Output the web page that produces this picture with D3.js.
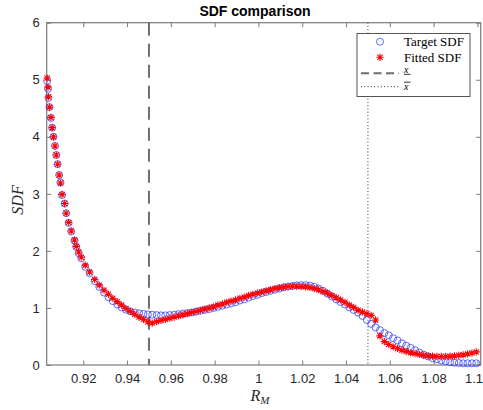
<!DOCTYPE html>
<html>
<head>
<meta charset="utf-8">
<script src="https://cdn.jsdelivr.net/npm/d3@7"></script>
<style>
  html, body { margin: 0; padding: 0; background: #fff; }
  svg { display: block; }
</style>
</head>
<body>
<svg id="chart" width="483" height="410"></svg>
<script>
// ---------------- DATA ----------------
const rm = [
  0.9035,0.9039,0.9041,0.9046,0.9052,0.9058,0.9064,0.9071,0.9077,0.9083,
  0.9090,0.9096,0.9103,0.9115,0.9122,0.9133,0.9145,0.9160,0.9168,0.9179,
  0.9191,0.9209,0.9229,0.9252,0.9273,
  0.9295,0.9315,0.9335,0.9355,0.9375,0.9395,0.9415,0.9435,0.9455,0.9475,
  0.9495,0.9515,0.9535,0.9555,0.9575,0.9595,0.9615,0.9635,0.9655,0.9675,
  0.9695,0.9715,0.9735,0.9755,0.9775,0.9795,0.9815,0.9835,0.9855,0.9875,
  0.9895,0.9915,0.9935,0.9955,0.9975,0.9995,1.0015,1.0035,1.0055,1.0075,
  1.0095,1.0115,1.0135,1.0155,1.0175,1.0195,1.0215,1.0235,1.0255,1.0275,
  1.0295,1.0315,1.0335,1.0355,1.0375,1.0395,1.0415,1.0435,1.0455,1.0475,
  1.0495,1.0515,1.0535,1.0555,1.0575,1.0595,1.0615,1.0635,1.0655,1.0675,
  1.0695,1.0715,1.0735,1.0755,1.0775,1.0795,1.0815,1.0835,1.0855,1.0875,
  1.0895,1.0915,1.0935,1.0955,1.0975,1.0995
];
const targetSDF = [
  4.98,4.84,4.68,4.52,4.33,4.16,4.00,3.84,3.68,3.52,
  3.33,3.20,2.98,2.83,2.66,2.49,2.34,2.18,2.07,1.96,
  1.87,1.72,1.61,1.47,1.37,
  1.27,1.19,1.12,1.06,1.01,0.97,0.94,0.92,0.905,0.895,
  0.885,0.88,0.875,0.87,0.87,0.875,0.88,0.89,0.90,0.91,
  0.92,0.935,0.95,0.965,0.98,1.00,1.02,1.04,1.06,1.08,
  1.10,1.13,1.15,1.18,1.21,1.23,1.26,1.28,1.30,1.32,
  1.34,1.36,1.375,1.385,1.395,1.40,1.40,1.39,1.37,1.34,
  1.30,1.25,1.20,1.15,1.105,1.06,1.01,0.965,0.92,0.86,
  0.79,0.72,0.66,0.61,0.56,0.52,0.47,0.43,0.38,0.34,
  0.30,0.26,0.22,0.18,0.15,0.12,0.10,0.08,0.065,0.05,
  0.04,0.035,0.03,0.03,0.03,0.03
];
const fittedSDF = [
  5.03,4.87,4.70,4.52,4.34,4.16,4.00,3.84,3.68,3.52,
  3.33,3.19,2.99,2.83,2.66,2.50,2.35,2.19,2.08,1.98,
  1.89,1.75,1.63,1.50,1.40,
  1.31,1.24,1.17,1.11,1.05,0.99,0.94,0.89,0.84,0.80,
  0.755,0.735,0.76,0.78,0.80,0.82,0.84,0.86,0.88,0.90,
  0.92,0.94,0.96,0.98,1.00,1.02,1.05,1.07,1.10,1.12,
  1.14,1.17,1.19,1.22,1.24,1.26,1.28,1.30,1.32,1.34,
  1.355,1.365,1.375,1.38,1.38,1.375,1.37,1.36,1.34,1.32,
  1.29,1.26,1.22,1.18,1.14,1.10,1.05,1.01,0.96,0.93,
  0.90,0.87,0.79,0.51,0.41,0.36,0.32,0.29,0.26,0.235,
  0.215,0.20,0.185,0.17,0.16,0.155,0.15,0.15,0.15,0.155,
  0.16,0.17,0.18,0.195,0.21,0.23
];
const lowerBound = 0.95;
const upperBound = 1.05;
const xTicks = [0.92,0.94,0.96,0.98,1.00,1.02,1.04,1.06,1.08,1.10];
const xTickLabels = ["0.92","0.94","0.96","0.98","1","1.02","1.04","1.06","1.08","1.1"];
const yTicks = [0,1,2,3,4,5,6];
const yTickLabels = ["0","1","2","3","4","5","6"];
const legendLabels = ["Target SDF","Fitted SDF"];

// ---------------- LAYOUT ----------------
const svg = d3.select("#chart");
const L = 46.7, R = 480.7, T = 22.7, B = 365;
const x = d3.scaleLinear().domain([0.9033, 1.1015]).range([L, R]);
const y = d3.scaleLinear().domain([0, 6]).range([B, T]);
const axisCol = "#7a7a7a";
const textCol = "#262626";
const sansFont = "'Liberation Sans', Arial, Helvetica, sans-serif";
const serifFont = "'Liberation Serif', 'Times New Roman', serif";

// Axes (ticks inward)
const tk = 4.5;
function styleAxis(g) {
  g.select(".domain").remove();
  g.selectAll(".tick line").attr("stroke", axisCol).attr("stroke-width", 1);
  g.selectAll("text").attr("fill", textCol).attr("font-family", sansFont).attr("font-size", 13);
}
const gx = svg.append("g").attr("transform", `translate(0,${B})`)
  .call(d3.axisBottom(x).tickValues(xTicks).tickSize(-tk).tickPadding(9)
    .tickFormat((d, i) => xTickLabels[i]));
styleAxis(gx);
// keep the last label inside the window
gx.selectAll(".tick text").filter((d, i) => i === xTicks.length - 1)
  .attr("text-anchor", "end").attr("x", 482.5 - x(xTicks[xTicks.length - 1]));
const gxt = svg.append("g").attr("transform", `translate(0,${T})`)
  .call(d3.axisTop(x).tickValues(xTicks).tickSize(-tk).tickFormat(""));
styleAxis(gxt);
const gy = svg.append("g").attr("transform", `translate(${L},0)`)
  .call(d3.axisLeft(y).tickValues(yTicks).tickSize(-tk).tickPadding(7)
    .tickFormat((d, i) => yTickLabels[i]));
styleAxis(gy);
const gyr = svg.append("g").attr("transform", `translate(${R},0)`)
  .call(d3.axisRight(y).tickValues(yTicks).tickSize(-tk).tickFormat(""));
styleAxis(gyr);

svg.append("rect").attr("x", L).attr("y", T).attr("width", R - L).attr("height", B - T)
  .attr("fill", "none").attr("stroke", axisCol).attr("stroke-width", 1.2);

// Bound lines
svg.append("line").attr("x1", x(lowerBound)).attr("x2", x(lowerBound))
  .attr("y1", y(6)).attr("y2", y(0))
  .attr("stroke", "#6e6e6e").attr("stroke-width", 2).attr("stroke-dasharray", "13,8");
svg.append("line").attr("x1", x(upperBound)).attr("x2", x(upperBound))
  .attr("y1", y(6)).attr("y2", y(0))
  .attr("stroke", "#333").attr("stroke-width", 1).attr("stroke-dasharray", "1,2.3");

// Markers
const circR = 3.5;
const starR = 3.6;
function starPath(r) {
  const d = r * 0.72;
  return `M${-r},0L${r},0M0,${-r}L0,${r}M${-d},${-d}L${d},${d}M${-d},${d}L${d},${-d}`;
}
const pts = rm.map((v, i) => ({ r: v, t: targetSDF[i], f: fittedSDF[i] }));
svg.append("g").selectAll("circle").data(pts).join("circle")
  .attr("cx", d => x(d.r)).attr("cy", d => y(d.t)).attr("r", circR)
  .attr("fill", "none").attr("stroke", "#2a3cff").attr("stroke-width", 0.75);
svg.append("g").selectAll("path").data(pts).join("path")
  .attr("transform", d => `translate(${x(d.r)},${y(d.f)})`)
  .attr("d", starPath(starR))
  .attr("fill", "none").attr("stroke", "#ff0000").attr("stroke-width", 1.1);

// Title
svg.append("text").attr("x", 255).attr("y", 16).attr("text-anchor", "middle")
  .attr("font-family", sansFont).attr("font-weight", "bold").attr("font-size", 14)
  .attr("fill", "#000").text("SDF comparison");

// Axis labels
const xl = svg.append("text").attr("x", 260).attr("y", 401).attr("text-anchor", "middle")
  .attr("font-family", serifFont).attr("font-size", 16).attr("fill", textCol);
xl.append("tspan").attr("font-style", "italic").text("R");
xl.append("tspan").attr("font-style", "italic").attr("font-size", 11).attr("dy", 3).text("M");

svg.append("text").attr("transform", "translate(23,200) rotate(-90)")
  .attr("text-anchor", "middle").attr("font-family", serifFont).attr("font-style", "italic")
  .attr("font-size", 16).attr("fill", textCol).text("SDF");

// Legend
const lg = svg.append("g");
lg.append("rect").attr("x", 357).attr("y", 33.5).attr("width", 113).attr("height", 63)
  .attr("fill", "#fff").attr("stroke", "#555").attr("stroke-width", 1);
const rowY = [41.7, 57.3, 73.3, 86.7];
lg.append("circle").attr("cx", 380).attr("cy", rowY[0]).attr("r", circR)
  .attr("fill", "none").attr("stroke", "#2a3cff").attr("stroke-width", 0.75);
lg.append("path").attr("transform", `translate(380,${rowY[1]})`).attr("d", starPath(starR))
  .attr("fill", "none").attr("stroke", "#ff0000").attr("stroke-width", 1.1);
lg.append("line").attr("x1", 361).attr("x2", 399).attr("y1", rowY[2]).attr("y2", rowY[2])
  .attr("stroke", "#6e6e6e").attr("stroke-width", 2).attr("stroke-dasharray", "8,4.5");
lg.append("line").attr("x1", 361).attr("x2", 399).attr("y1", rowY[3]).attr("y2", rowY[3])
  .attr("stroke", "#333").attr("stroke-width", 1).attr("stroke-dasharray", "1,2.3");
legendLabels.forEach((t, i) => {
  lg.append("text").attr("x", 404).attr("y", rowY[i] + 4.5)
    .attr("font-family", serifFont).attr("font-size", 13).attr("fill", "#000").text(t);
});
// lower bound (x underlined) / upper bound (x overlined)
lg.append("text").attr("x", 404).attr("y", rowY[2] - 0.8)
  .attr("font-family", serifFont).attr("font-style", "italic").attr("font-size", 10)
  .attr("fill", "#000").text("x");
lg.append("line").attr("x1", 404).attr("x2", 410.5).attr("y1", rowY[2] + 1).attr("y2", rowY[2] + 1)
  .attr("stroke", "#000").attr("stroke-width", 0.8);
lg.append("text").attr("x", 404).attr("y", rowY[3] + 3.5)
  .attr("font-family", serifFont).attr("font-style", "italic").attr("font-size", 10)
  .attr("fill", "#000").text("x");
lg.append("line").attr("x1", 404).attr("x2", 410.5).attr("y1", rowY[3] - 4.5).attr("y2", rowY[3] - 4.5)
  .attr("stroke", "#000").attr("stroke-width", 0.8);
</script>
</body>
</html>
